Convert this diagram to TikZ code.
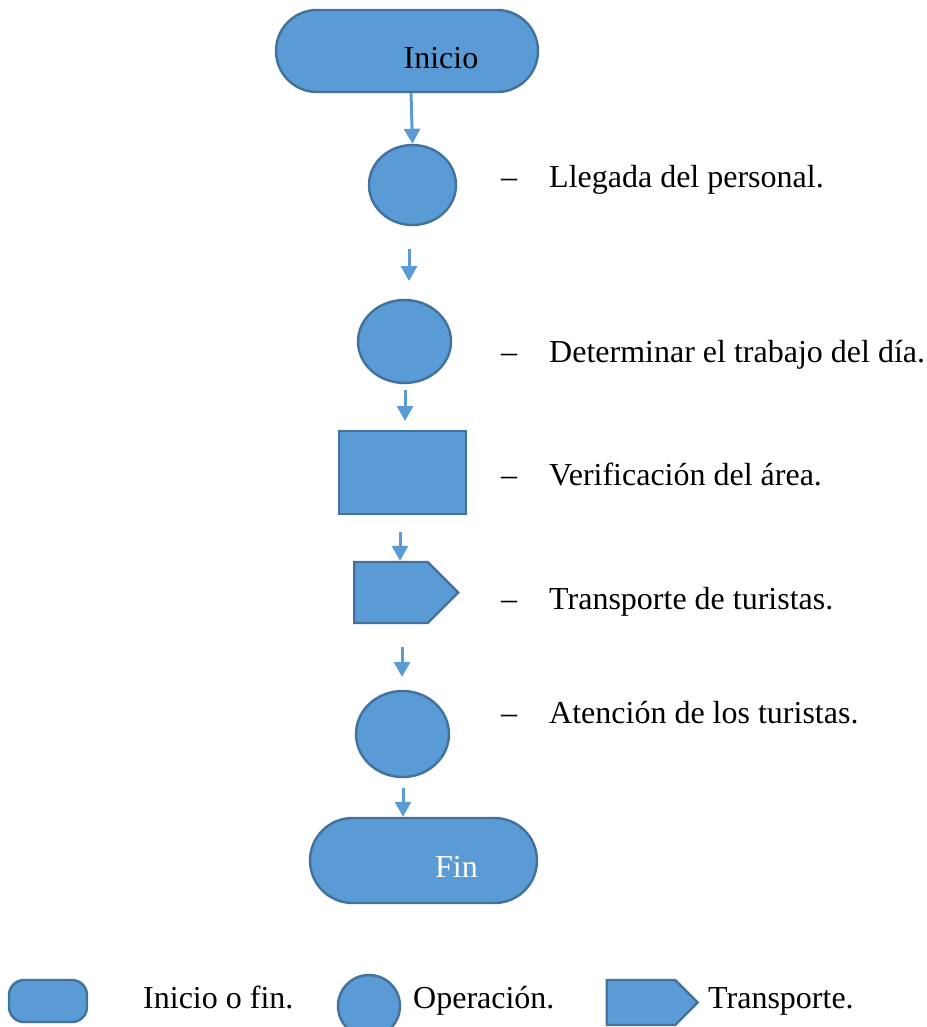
\documentclass[tikz,border=0pt]{standalone}
\usepackage{fontspec}
\setmainfont{Liberation Serif}
\usetikzlibrary{shapes.misc,shapes.geometric,shapes.symbols,arrows.meta}
\definecolor{azul}{HTML}{5B9BD5}
\definecolor{borde}{HTML}{41719C}

\begin{document}
\begin{tikzpicture}[x=1pt,y=-1pt,font=\fontsize{32}{38}\selectfont,
  forma/.style={draw=borde,fill=azul,line width=2.4pt,inner sep=0pt},
  inifin/.style={forma,rounded rectangle},
  oper/.style={forma,ellipse},
  caja/.style={forma,rectangle},
  transp/.style={forma,signal,signal pointer angle=90},
  flecha/.style={draw=azul,line width=3pt,-{Triangle[width=16pt,length=15pt]}},
  guion/.style={anchor=base,inner sep=0pt},
  texto/.style={anchor=base west,inner sep=0pt}]
  \useasboundingbox (0,0) rectangle (926,1027);
  % diagrama
  \node[inifin,minimum width=262pt,minimum height=82pt,label={[xshift=34pt,yshift=-7pt]center:Inicio}] (inicio) at (407,51) {};
  \node[oper,minimum width=87pt,minimum height=80pt] (op1) at (412.5,185) {};
  \node[oper,minimum width=93pt,minimum height=83pt] (op2) at (404.5,341.5) {};
  \node[caja,minimum width=127pt,minimum height=83pt] (verif) at (402.5,472.5) {};
  \node[transp,minimum width=104pt,minimum height=61pt] (trans) at (391,592.5) {};
  \node[oper,minimum width=93pt,minimum height=86pt] (op3) at (402.5,734) {};
  \node[inifin,minimum width=227pt,minimum height=85pt,label={[text=white,xshift=33pt,yshift=-6pt]center:Fin}] (fin) at (423.5,860.5) {};
  % flechas
  \coordinate (a2) at (409,249);
  \coordinate (b2) at (409,281);
  \coordinate (a3) at (405,390);
  \coordinate (b3) at (405,421);
  \coordinate (a4) at (400,532);
  \coordinate (a5) at (402,647);
  \coordinate (b5) at (402,677);
  \coordinate (a6) at (403,788);
  \draw[flecha] ([xshift=4pt]inicio.south) -- (op1.north);
  \draw[flecha] (a2) -- (b2);
  \draw[flecha] (a3) -- (b3);
  \draw[flecha] (a4) -- (a4 |- trans.north);
  \draw[flecha] (a5) -- (b5);
  \draw[flecha] (a6) -- (a6 |- fin.north);
  % descripciones
  \node[guion] (g1) at (509,188) {\textendash};
  \node[texto] (t1) at (549,188) {Llegada del personal.};
  \node[guion] (g2) at (509,362) {\textendash};
  \node[texto] (t2) at (549,362) {Determinar el trabajo del día.};
  \node[guion] (g3) at (509,485) {\textendash};
  \node[texto] (t3) at (549,485) {Verificación del área.};
  \node[guion] (g4) at (509,609) {\textendash};
  \node[texto] (t4) at (549,609) {Transporte de turistas.};
  \node[guion] (g5) at (509,723) {\textendash};
  \node[texto] (t5) at (549,723) {Atención de los turistas.};
  % leyenda
  \node[forma,rectangle,rounded corners=15pt,minimum width=78pt,minimum height=42pt] (l1) at (48,1001) {};
  \node[texto] (lt1) at (143,1008) {Inicio o fin.};
  \node[oper,minimum width=62pt,minimum height=62pt] (l2) at (369,1006) {};
  \node[texto] (lt2) at (413,1008) {Operación.};
  \node[transp,minimum width=91pt,minimum height=45pt] (l3) at (641,1002.5) {};
  \node[texto] (lt3) at (708,1008) {Transporte.};
\end{tikzpicture}
\end{document}
